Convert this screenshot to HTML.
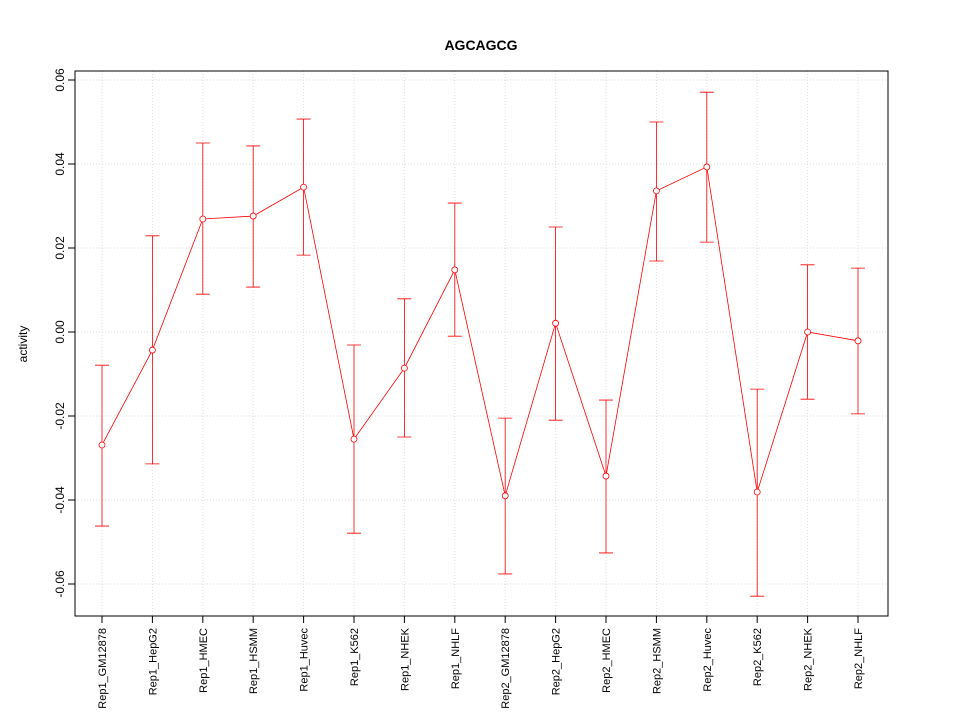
<!DOCTYPE html>
<html><head><meta charset="utf-8"><style>body{margin:0;background:#fff}svg{display:block}text{font-family:"Liberation Sans",sans-serif}</style></head>
<body>
<svg id="chart" width="960" height="720" xmlns="http://www.w3.org/2000/svg">
<rect width="960" height="720" fill="#fff"/>
<text x="481" y="50" text-anchor="middle" font-size="14" font-weight="bold">AGCAGCG</text>
<text transform="translate(27,344) rotate(-90)" text-anchor="middle" font-size="12">activity</text>
<g id="grid"></g><g id="axes"></g><g id="marks"></g>
<rect x="75" y="71" width="813" height="545" fill="none" stroke="#000"/>
</svg>
<script>
const categories=["Rep1_GM12878","Rep1_HepG2","Rep1_HMEC","Rep1_HSMM","Rep1_Huvec","Rep1_K562","Rep1_NHEK","Rep1_NHLF","Rep2_GM12878","Rep2_HepG2","Rep2_HMEC","Rep2_HSMM","Rep2_Huvec","Rep2_K562","Rep2_NHEK","Rep2_NHLF"];
const values=[-0.0269,-0.0043,0.0269,0.0276,0.0345,-0.0255,-0.0086,0.0148,-0.039,0.0021,-0.0343,0.0336,0.0393,-0.0381,0.0,-0.0021];
const upper=[-0.0079,0.0229,0.045,0.0443,0.0507,-0.0031,0.0079,0.0307,-0.0205,0.025,-0.0162,0.050,0.0571,-0.0136,0.016,0.0152];
const lower=[-0.0462,-0.0314,0.009,0.0107,0.0183,-0.0479,-0.025,-0.001,-0.0576,-0.021,-0.0526,0.0169,0.0214,-0.0629,-0.016,-0.0195];
const yTicks=[-0.06,-0.04,-0.02,0.00,0.02,0.04,0.06];
const yTickLabels=["-0.06","-0.04","-0.02","0.00","0.02","0.04","0.06"];
const NS="http://www.w3.org/2000/svg";
const x=i=>102+i*(858-102)/(categories.length-1);
const y=v=>332-v*4200;
function mk(parent,tag,attrs){const e=document.createElementNS(NS,tag);for(const k in attrs)e.setAttribute(k,attrs[k]);document.getElementById(parent).appendChild(e);return e;}
yTicks.forEach((t,i)=>{
 let g=mk("grid","line",{x1:75,x2:888,y1:y(t),y2:y(t),stroke:"#ddd","stroke-dasharray":"1,2"});
 
 
 let tk=mk("axes","line",{x1:68,x2:75,y1:y(t),y2:y(t),stroke:"#000"});
 
 
 let lb=mk("axes","text",{transform:`translate(64,${y(t)}) rotate(-90)`,"text-anchor":"middle","font-size":"12"});
 lb.textContent=yTickLabels[i];
 
 
});
categories.forEach((c,i)=>{
 let g=mk("grid","line",{x1:x(i),x2:x(i),y1:71,y2:616,stroke:"#ddd","stroke-dasharray":"1,2"});
 
 
 let tk=mk("axes","line",{x1:x(i),x2:x(i),y1:616,y2:623,stroke:"#000"});
 
 
 let lb=mk("axes","text",{transform:`translate(${x(i)+4},628) rotate(-90)`,"text-anchor":"end","font-size":"11"});
 lb.textContent=c;
 
 
});
let pts=values.map((v,i)=>x(i)+","+y(v)).join(" ");
let pl=mk("marks","polyline",{points:pts,fill:"none",stroke:"#f00","stroke-width":"0.8"});


values.forEach((v,i)=>{
 let e=mk("marks","path",{d:`M${x(i)},${y(upper[i])}V${y(lower[i])}M${x(i)-7},${y(upper[i])}H${x(i)+7}M${x(i)-7},${y(lower[i])}H${x(i)+7}`,stroke:"#f00",fill:"none","stroke-width":"0.8"});
 
 
 let p=mk("marks","circle",{cx:x(i),cy:y(v),r:3,fill:"#fff",stroke:"#f00","stroke-width":"0.8"});
 
 
});
</script>
</body></html>
